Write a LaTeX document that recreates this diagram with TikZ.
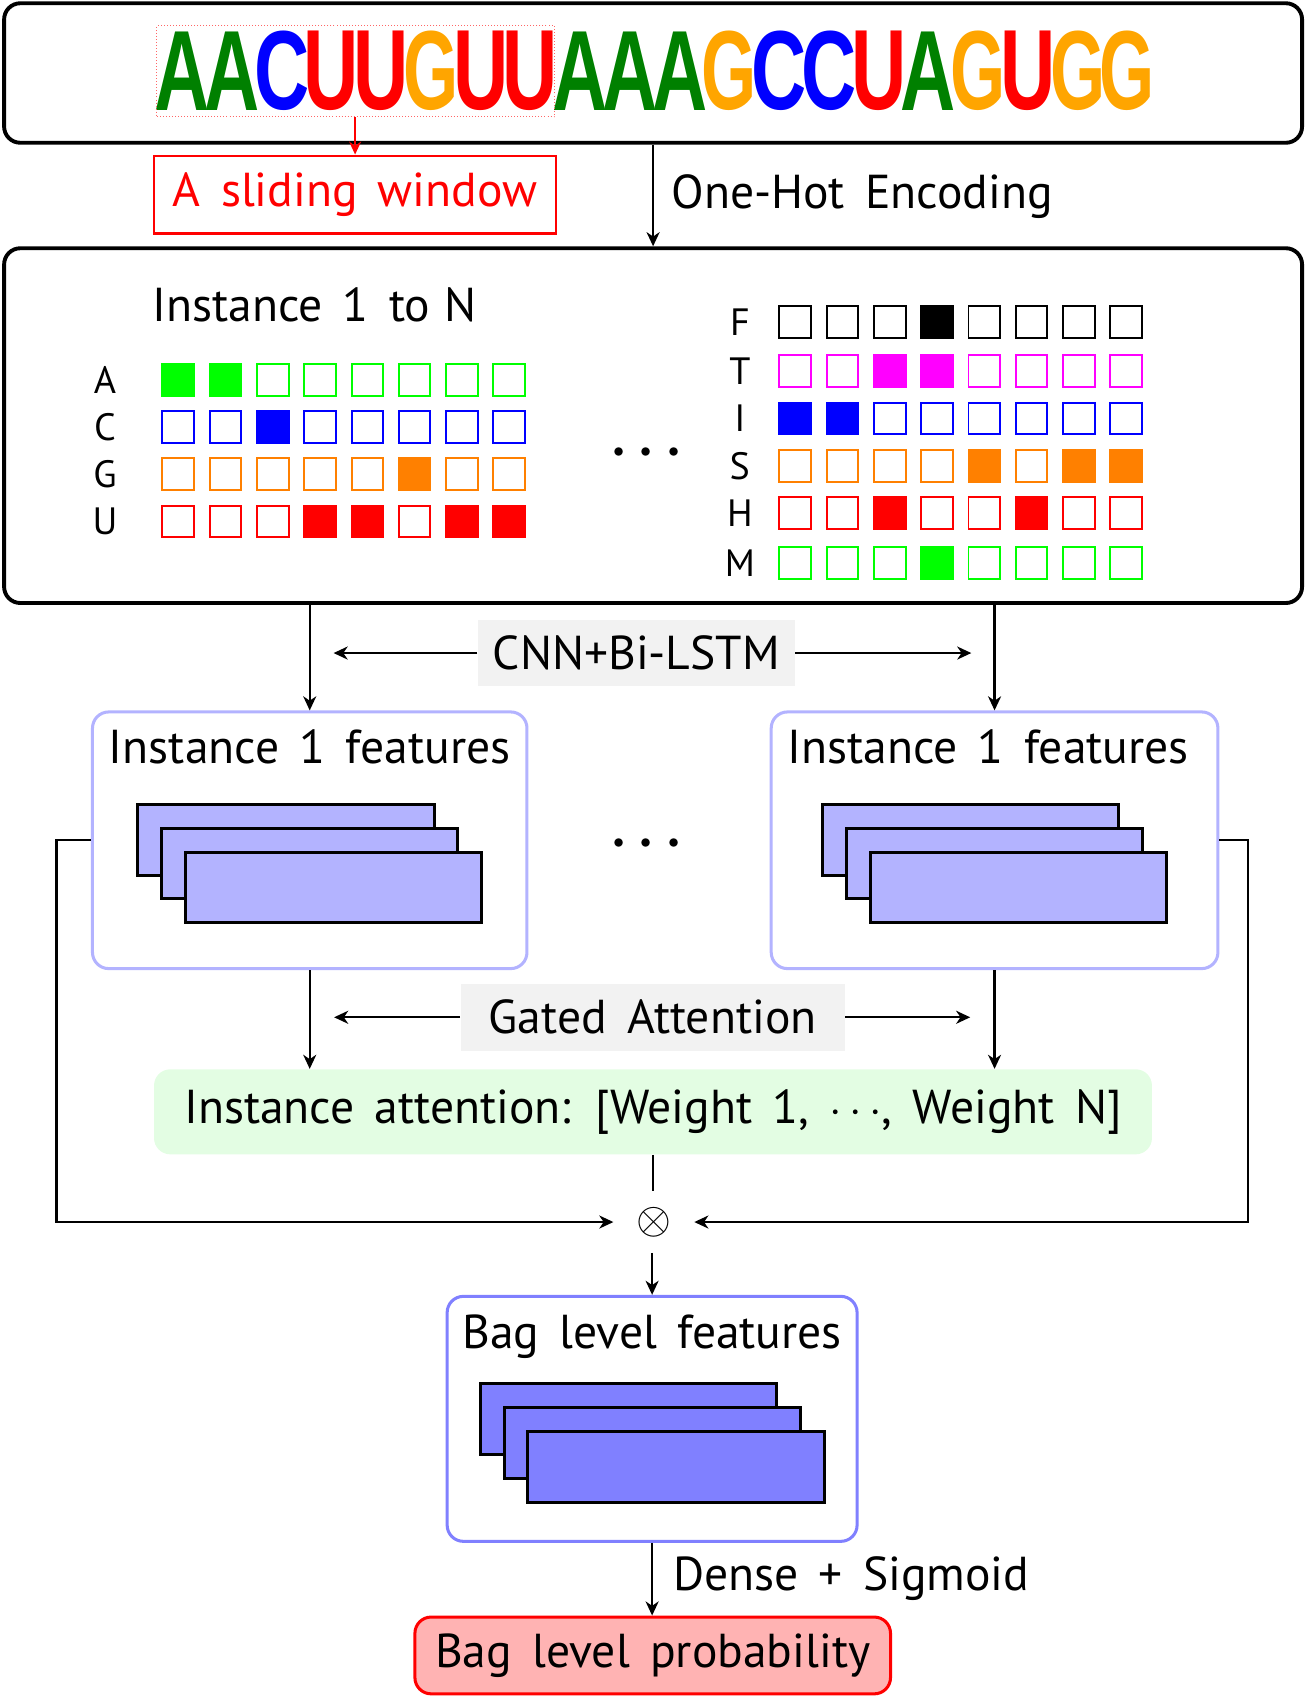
\documentclass[tikz,border=0pt]{standalone}
\usepackage{fontspec}
\setmainfont{PT Sans}[WordSpace=1.6]
\newfontfamily\logofont{Liberation Sans}
\usetikzlibrary{arrows.meta,fit}
\definecolor{gA}{RGB}{0,255,0}
\definecolor{orng}{RGB}{255,128,0}
\definecolor{mgnt}{RGB}{255,0,255}
\definecolor{logoA}{RGB}{0,128,0}
\definecolor{logoC}{RGB}{0,0,255}
\definecolor{logoG}{RGB}{255,165,0}
\definecolor{logoU}{RGB}{255,0,0}
\definecolor{lblue}{RGB}{179,179,255}
\definecolor{mblue}{RGB}{128,128,255}
\definecolor{lgray}{RGB}{242,242,242}
\definecolor{lgreen}{RGB}{227,253,227}
\definecolor{lred}{RGB}{255,179,179}
\newcommand\sqrow[4]{%
  \foreach \v [count=\k from 0] in {#4} {
    \ifnum\v=1\relax
      \fill[#3] ({#1+43.7*\k},{#2-15.5}) rectangle ++(31,31);
    \else
      \draw[#3, line width=0.9pt] ({#1+43.7*\k+0.9},{#2-14.6}) rectangle ++(29.2,29.2);
    \fi
  }}
\newcommand\stackrects[3]{% #1 center x, #2 top y, #3 fill
  \filldraw[fill=#3, draw=black, line width=1.4pt] ({#1-159},{#2}) rectangle ({#1+115},{#2+65});
  \filldraw[fill=#3, draw=black, line width=1.4pt] ({#1-137},{#2+22}) rectangle ({#1+137},{#2+87});
  \filldraw[fill=#3, draw=black, line width=1.4pt] ({#1-115},{#2+44}) rectangle ({#1+159},{#2+109});
}
\begin{document}
\begin{tikzpicture}[x=0.5pt,y=-0.5pt,
  every node/.style={inner sep=0pt},
  txt/.style={font=\fontsize{22}{26}\selectfont},
  lbl/.style={font=\fontsize{17.6}{20}\selectfont},
  bigbox/.style={draw=black, line width=1.8pt, rounded corners=7.5pt},
  featbox/.style={draw=lblue, line width=1.4pt, rounded corners=7.5pt, fill=white},
  graylbl/.style={fill=lgray, txt},
  arr/.style={-{Stealth[length=6.5pt,width=6pt,inset=2pt]}, line width=1.1pt},
  plain/.style={line width=1.1pt},
  redarr/.style={-{Stealth[length=6pt,width=5.5pt,inset=2pt]}, line width=0.9pt, red},
  dotsnode/.style={font=\fontsize{29}{30}\selectfont\boldmath}
]
\useasboundingbox (0,0) rectangle (1206,1568);

% top box with sequence logo
\node[bigbox, minimum width=600pt, minimum height=64.5pt] (top) at (603.8,67.5) {};
\foreach \ltr [count=\i from 0] in {A,A,C,U,U,G,U,U,A,A,A,G,C,C,U,A,G,U,G,G} {
  \node[anchor=south west, text=logo\ltr] (L\i) at ({142.5+46*\i},102.6)
    {\resizebox{25.5pt}{36.3pt}{\logofont\bfseries \ltr}};
}
\node[draw=red!60, densely dotted, line width=0.4pt, fit={(145,23.7) (512.5,108)}] (win) {};

% sliding window
\node[draw=red, line width=1.1pt, minimum width=185.7pt, minimum height=35.9pt, txt, text=red] (slide) at (328.3,179.9) {A sliding window};
\draw[redarr] (win.south -| slide.north) -- (slide.north);

% encoding box
\node[bigbox, minimum width=600pt, minimum height=164pt] (enc) at (603.8,393.5) {};
\draw[arr] (top.south) -- (enc.north);
\node[txt, anchor=base west] (ohe) at (620.4,192.7) {One-Hot Encoding};

\node[txt, anchor=base west] (inN) at (140.5,297.5) {Instance 1 to\hspace{-3pt} N};

% left grid
\node[lbl] (rA) at (97,351.1) {A};
\node[lbl] (rC) at (97,394.6) {C};
\node[lbl] (rG) at (97,438.3) {G};
\node[lbl] (rU) at (97,482.1) {U};
\sqrow{149.3}{351.1}{gA}{1,1,0,0,0,0,0,0}
\sqrow{149.3}{394.6}{blue}{0,0,1,0,0,0,0,0}
\sqrow{149.3}{438.3}{orng}{0,0,0,0,0,1,0,0}
\sqrow{149.3}{482.1}{red}{0,0,0,1,1,0,1,1}

\node[dotsnode, anchor=base] (dots1) at (597.5,430) {$\cdots$};

% right grid
\node[lbl] (rF) at (684,297.5) {F};
\node[lbl] (rT) at (684,342.8) {T};
\node[lbl] (rI) at (684,386.9) {I};
\node[lbl] (rS) at (684,430.7) {S};
\node[lbl] (rH) at (684,474.1) {H};
\node[lbl] (rM) at (684,520.4) {M};
\sqrow{719.7}{297.5}{black}{0,0,0,1,0,0,0,0}
\sqrow{719.7}{342.8}{mgnt}{0,0,1,1,0,0,0,0}
\sqrow{719.7}{386.9}{blue}{1,1,0,0,0,0,0,0}
\sqrow{719.7}{430.7}{orng}{0,0,0,0,1,0,1,1}
\sqrow{719.7}{474.1}{red}{0,0,1,0,0,1,0,0}
\sqrow{719.7}{520.4}{gA}{0,0,0,1,0,0,0,0}

% instance feature boxes
\node[featbox, minimum width=200.85pt, minimum height=118.65pt] (inst1) at (286.35,776.85) {};
\node[featbox, minimum width=206.5pt, minimum height=118.65pt] (instN) at (919.5,776.85) {};
\node[txt, anchor=base] (t1) at (286.35,706) {Instance 1 features};
\node[txt, anchor=base] (tN) at (913.5,706) {Instance 1 features};
\stackrects{286.35}{744}{lblue}
\stackrects{919.5}{744}{lblue}
\node[dotsnode, anchor=base] (dots2) at (597.5,791.5) {$\cdots$};

\draw[arr] (enc.south -| inst1.north) -- (inst1.north);
\draw[arr] (enc.south -| instN.north) -- (instN.north);

\node[graylbl, minimum width=146.6pt, minimum height=30.35pt] (cnn) at (588.4,603.75) {CNN+Bi-LSTM};
\coordinate (cnnL) at (308.4,603.75);
\coordinate (cnnR) at (898,603.75);
\draw[arr] (cnn.west) -- (cnnL);
\draw[arr] (cnn.east) -- (cnnR);

% attention
\node[fill=lgreen, rounded corners=7.5pt, minimum width=461.3pt, minimum height=39.3pt, txt] (att) at (603.7,1027.9)
  {Instance attention: [Weight 1, $\cdots$, Weight N]};
\draw[arr] (inst1.south) -- (inst1.south |- att.north);
\draw[arr] (instN.south) -- (instN.south |- att.north);

\node[graylbl, minimum width=177.55pt, minimum height=31.1pt] (gated) at (603.35,940.5) {Gated Attention};
\coordinate (gL) at (308.9,940.5);
\coordinate (gR) at (897,940.5);
\draw[arr] (gated.west) -- (gL);
\draw[arr] (gated.east) -- (gR);

% product
\node[minimum width=37pt, minimum height=28pt, font=\fontsize{22}{24}\selectfont] (ot) at (604.5,1129.8) {$\otimes$};
\draw[plain] (att.south) -- (att.south |- ot.north);
\draw[arr] (inst1.west) -- ++(-31.9,0) |- (ot.west);
\draw[arr] (instN.east) -- ++(26.3,0) |- (ot.east);

% bag
\node[featbox, draw=mblue, minimum width=189.5pt, minimum height=113.25pt] (bag) at (602.9,1311.75) {};
\node[txt, anchor=base] (tb) at (602.9,1247) {Bag level features};
\filldraw[fill=mblue, draw=black, line width=1.4pt] (444.3,1279.3) rectangle (718,1344.7);
\filldraw[fill=mblue, draw=black, line width=1.4pt] (466,1301.2) rectangle (740,1366.7);
\filldraw[fill=mblue, draw=black, line width=1.4pt] (487.6,1323) rectangle (762.2,1388.7);
\draw[arr] (ot.south -| bag.north) -- (bag.north);

% probability
\node[draw=red, fill=lred, line width=1.4pt, rounded corners=7.5pt, minimum width=219.85pt, minimum height=35.5pt, txt] (prob) at (603.45,1530.5) {Bag level probability};
\draw[arr] (bag.south) -- (bag.south |- prob.north);
\node[txt, anchor=base west] (ds) at (621.8,1470.4) {Dense + Sigmoid};
\end{tikzpicture}
\end{document}
